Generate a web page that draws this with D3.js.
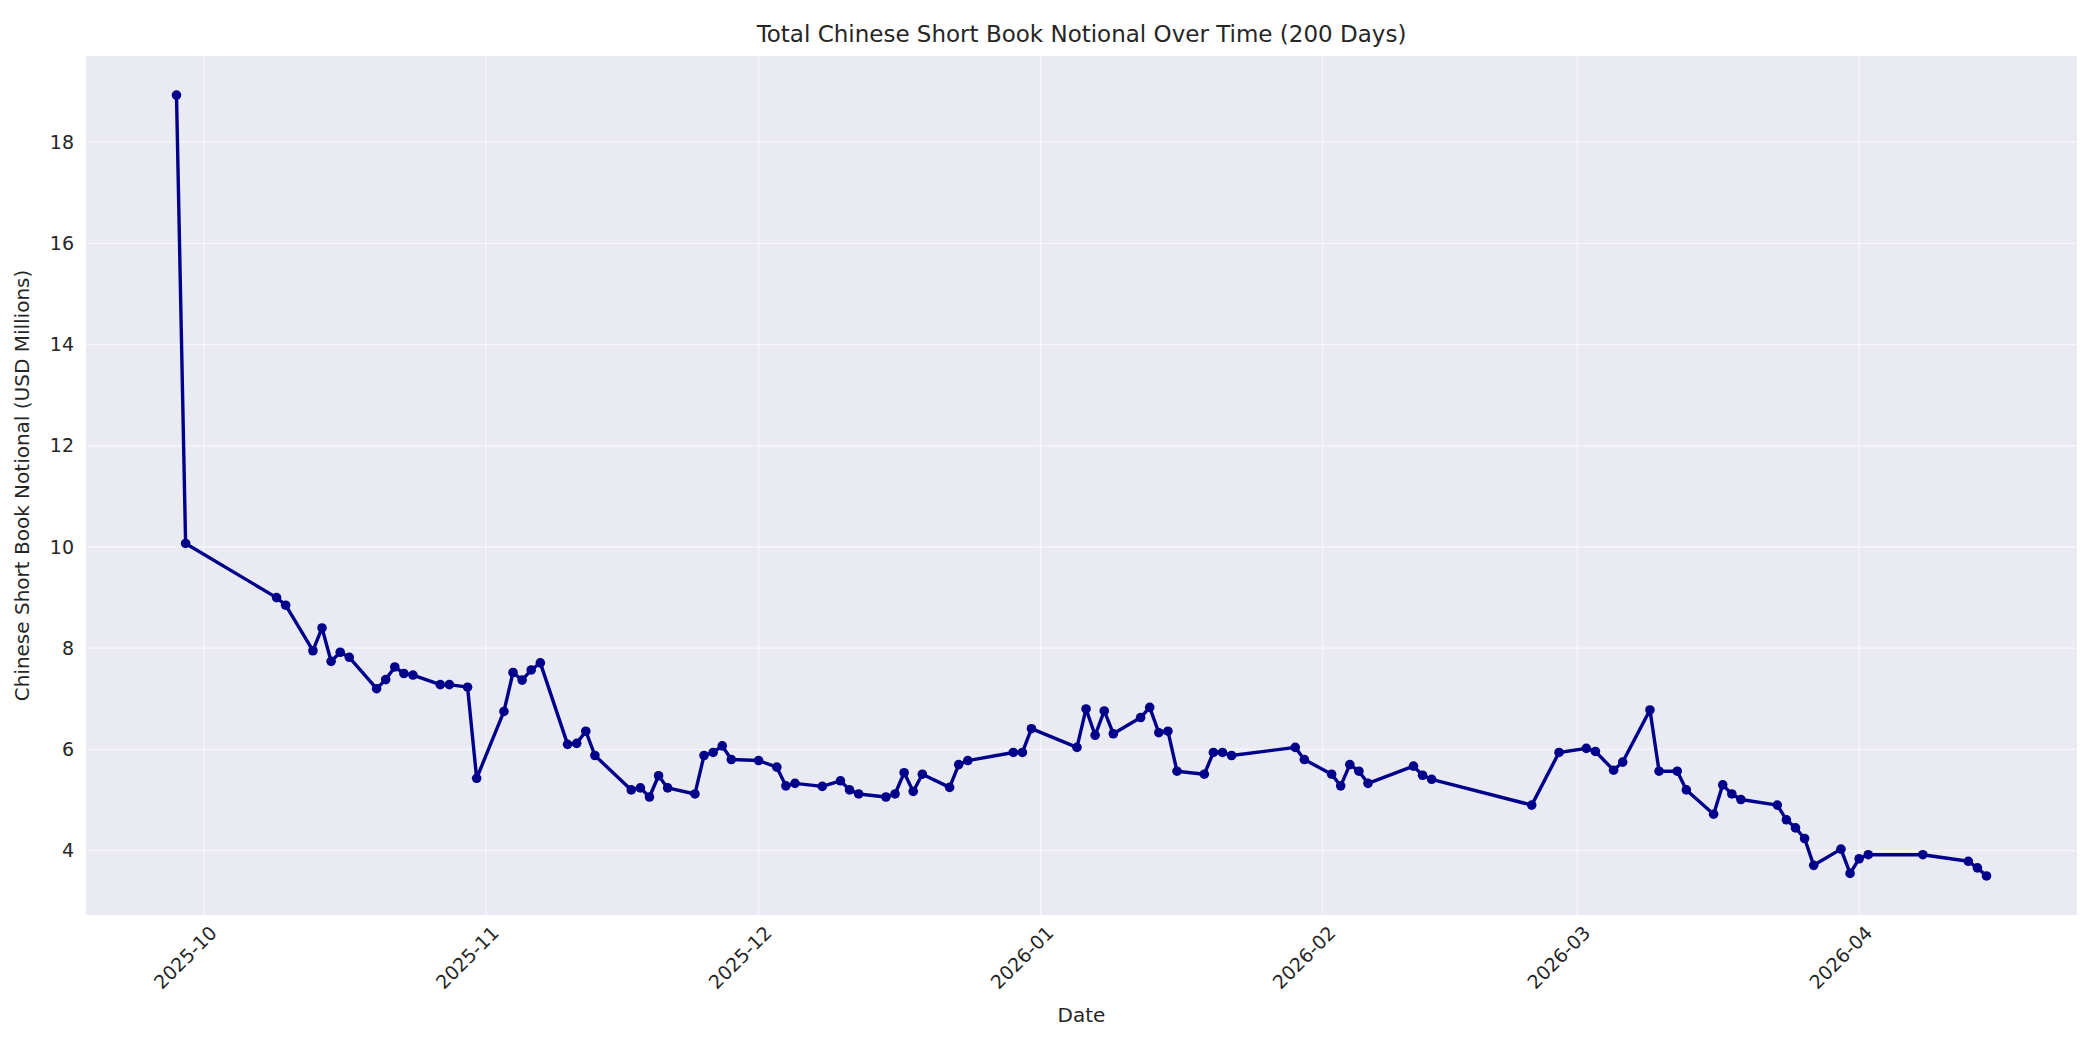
<!DOCTYPE html>
<html>
<head>
<meta charset="utf-8">
<script src="https://cdn.jsdelivr.net/npm/d3@7"></script>
<style>
  body { margin: 0; background: #fff; }
  text { font-family: "DejaVu Sans", sans-serif; fill: #262626; }
</style>
</head>
<body>
<svg id="chart" width="2100" height="1050"></svg>
<script>
const dates = [
  '2025-09-28','2025-09-29','2025-10-09','2025-10-10','2025-10-13','2025-10-14','2025-10-15','2025-10-16','2025-10-17',
  '2025-10-20','2025-10-21','2025-10-22','2025-10-23','2025-10-24','2025-10-27','2025-10-28','2025-10-30','2025-10-31',
  '2025-11-03','2025-11-04','2025-11-05','2025-11-06','2025-11-07','2025-11-10','2025-11-11','2025-11-12','2025-11-13',
  '2025-11-17','2025-11-18','2025-11-19','2025-11-20','2025-11-21','2025-11-24','2025-11-25','2025-11-26','2025-11-27','2025-11-28',
  '2025-12-01','2025-12-03','2025-12-04','2025-12-05','2025-12-08','2025-12-10','2025-12-11','2025-12-12',
  '2025-12-15','2025-12-16','2025-12-17','2025-12-18','2025-12-19','2025-12-22','2025-12-23','2025-12-24',
  '2025-12-29','2025-12-30','2025-12-31','2026-01-05','2026-01-06','2026-01-07','2026-01-08','2026-01-09',
  '2026-01-12','2026-01-13','2026-01-14','2026-01-15','2026-01-16','2026-01-19','2026-01-20','2026-01-21','2026-01-22',
  '2026-01-29','2026-01-30','2026-02-02','2026-02-03','2026-02-04','2026-02-05','2026-02-06',
  '2026-02-11','2026-02-12','2026-02-13','2026-02-24','2026-02-27','2026-03-02','2026-03-03','2026-03-05','2026-03-06',
  '2026-03-09','2026-03-10','2026-03-12','2026-03-13','2026-03-16','2026-03-17','2026-03-18','2026-03-19',
  '2026-03-23','2026-03-24','2026-03-25','2026-03-26','2026-03-27','2026-03-30','2026-03-31','2026-04-01','2026-04-02',
  '2026-04-08','2026-04-13','2026-04-14','2026-04-15'
];
const notional = [
  18.93,10.07,9.0,8.85,7.95,8.4,7.74,7.92,7.82,
  7.2,7.38,7.63,7.5,7.47,7.28,7.28,7.23,5.43,
  6.75,7.52,7.37,7.57,7.71,6.1,6.12,6.36,5.88,
  5.2,5.24,5.06,5.48,5.24,5.12,5.88,5.94,6.07,5.8,
  5.78,5.65,5.28,5.33,5.27,5.38,5.2,5.12,
  5.06,5.12,5.54,5.17,5.51,5.25,5.7,5.78,
  5.94,5.94,6.41,6.04,6.8,6.28,6.76,6.31,
  6.63,6.83,6.33,6.36,5.57,5.51,5.94,5.94,5.88,
  6.04,5.8,5.51,5.28,5.7,5.57,5.33,
  5.67,5.49,5.41,4.9,5.94,6.02,5.96,5.59,5.75,
  6.78,5.57,5.57,5.2,4.72,5.3,5.12,5.01,
  4.9,4.61,4.45,4.24,3.71,4.03,3.55,3.84,3.92,
  3.92,3.79,3.66,3.5
];
const yTicks = [4, 6, 8, 10, 12, 14, 16, 18];
const xTicks = ['2025-10-01','2025-11-01','2025-12-01','2026-01-01','2026-02-01','2026-03-01','2026-04-01'];

const parse = d3.utcParse('%Y-%m-%d');
const data = dates.map((d, i) => ({ date: parse(d), value: notional[i] }));

const svg = d3.select('#chart');
const margin = { top: 56, right: 23, bottom: 135, left: 86 };
const width = 2100 - margin.left - margin.right;
const height = 1050 - margin.top - margin.bottom;

const xExt = d3.extent(data, d => d.date);
const xPad = (xExt[1] - xExt[0]) * 0.05;
const x = d3.scaleUtc()
  .domain([new Date(+xExt[0] - xPad), new Date(+xExt[1] + xPad)])
  .range([0, width]);
const yExt = d3.extent(data, d => d.value);
const yPad = (yExt[1] - yExt[0]) * 0.05;
const y = d3.scaleLinear()
  .domain([yExt[0] - yPad, yExt[1] + yPad])
  .range([height, 0]);

const g = svg.append('g').attr('transform', `translate(${margin.left},${margin.top})`);

g.append('rect').attr('width', width).attr('height', height).attr('fill', '#eaeaf2');

// grid
g.append('g').selectAll('line').data(yTicks).join('line')
  .attr('x1', 0).attr('x2', width)
  .attr('y1', d => y(d)).attr('y2', d => y(d))
  .attr('stroke', '#fff').attr('stroke-opacity', 0.6).attr('stroke-width', 1.3);
g.append('g').selectAll('line').data(xTicks.map(parse)).join('line')
  .attr('y1', 0).attr('y2', height)
  .attr('x1', d => x(d)).attr('x2', d => x(d))
  .attr('stroke', '#fff').attr('stroke-opacity', 0.6).attr('stroke-width', 1.3);

// axes
const xAxis = g.append('g').attr('transform', `translate(0,${height})`)
  .call(d3.axisBottom(x).tickValues(xTicks.map(parse)).tickFormat(d3.utcFormat('%Y-%m')).tickSize(0).tickPadding(12));
xAxis.select('.domain').remove();
xAxis.selectAll('text')
  .attr('font-size', 19)
  .attr('text-anchor', 'end')
  .attr('transform', 'rotate(-45)')
  .attr('dx', '-0.2em').attr('dy', '0.6em');

const yAxis = g.append('g')
  .call(d3.axisLeft(y).tickValues(yTicks).tickSize(0).tickPadding(12));
yAxis.select('.domain').remove();
yAxis.selectAll('text').attr('font-size', 19);

// line + points
g.append('path').datum(data)
  .attr('fill', 'none').attr('stroke', '#00008b').attr('stroke-width', 3.4)
  .attr('stroke-linejoin', 'round')
  .attr('d', d3.line().x(d => x(d.date)).y(d => y(d.value)));
g.append('g').selectAll('circle').data(data).join('circle')
  .attr('cx', d => x(d.date)).attr('cy', d => y(d.value)).attr('r', 4.8)
  .attr('fill', '#00008b');

// labels
svg.append('text').attr('x', margin.left + width / 2).attr('y', 42)
  .attr('text-anchor', 'middle').attr('font-size', 23)
  .text('Total Chinese Short Book Notional Over Time (200 Days)');
svg.append('text').attr('x', margin.left + width / 2).attr('y', 1022)
  .attr('text-anchor', 'middle').attr('font-size', 20).text('Date');
svg.append('text')
  .attr('transform', `translate(29,${margin.top + height / 2}) rotate(-90)`)
  .attr('text-anchor', 'middle').attr('font-size', 20)
  .text('Chinese Short Book Notional (USD Millions)');
</script>
</body>
</html>
